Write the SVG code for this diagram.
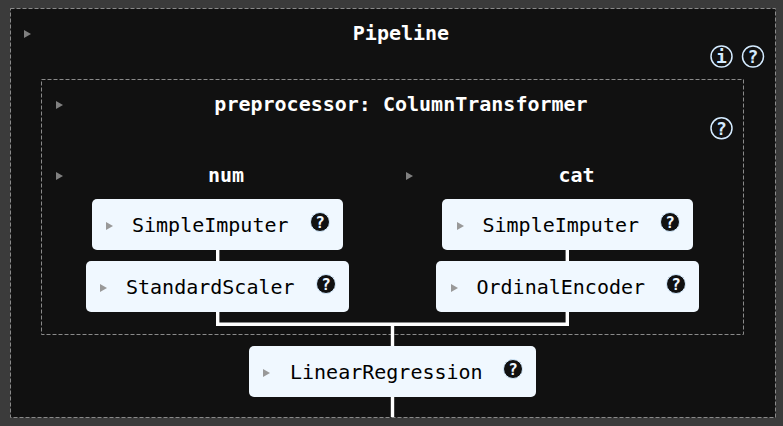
<svg xmlns="http://www.w3.org/2000/svg" width="783" height="426" viewBox="0 0 783 426">
<style>
text{font-family:"DejaVu Sans Mono","Liberation Mono",monospace}
.frame{fill:#111;stroke:#8a8a8a;stroke-width:1;stroke-dasharray:4 2}
.inner{fill:none;stroke:#8a8a8a;stroke-width:1;stroke-dasharray:4 2}
.title{font-size:20px;font-weight:700;fill:#fff;text-anchor:middle}
.box{fill:#f0f8ff}
.lab{font-size:20px;fill:#000}
.tri{fill:#808080}
.trib{fill:#999}
.conn{fill:none;stroke:#fff;stroke-width:3.4}
.h1{fill:#111;stroke:#d4ebff;stroke-width:1.5}
.h1t{font-size:18px;font-weight:700;fill:#d4ebff;text-anchor:middle}
.h2{fill:#111;stroke:#d4ebff;stroke-width:1}
.h2t{font-size:16px;font-weight:700;fill:#f0f8ff;text-anchor:middle}
</style>
<rect width="783" height="426" fill="#3b3b3b"/>
<g id="pipeline">
<rect class="frame" x="10.500" y="8.500" width="765" height="409"/>
<path class="tri" d="M24 30v8l7-4z"/>
<text class="title" x="401" y="40">Pipeline</text>
<circle class="h1" cx="721.500" cy="56.500" r="10.500"/><text class="h1t" x="721.500" y="63">i</text>
<circle class="h1" cx="753" cy="56.500" r="10.500"/><text class="h1t" x="753" y="63">?</text>
</g>
<g id="preprocessor">
<rect class="inner" x="41.500" y="79.500" width="702" height="255"/>
<path class="tri" d="M56 101v8l7-4z"/>
<text class="title" x="401" y="111">preprocessor: ColumnTransformer</text>
<circle class="h1" cx="721.500" cy="128.300" r="10.500"/><text class="h1t" x="721.500" y="134.500">?</text>
</g>
<g id="connectors">
<path class="conn" d="M217.700 250V261M217.700 312V324.300H567.300V312M567.300 250V261M392.500 324.300V346M392.500 397V417"/>
</g>
<g id="num"><path class="tri" d="M56 172v8l7-4z"/><text class="title" x="226" y="182">num</text></g>
<g id="cat"><path class="tri" d="M406 172v8l7-4z"/><text class="title" x="576.500" y="182">cat</text></g>
<g id="num-imputer">
<rect class="box" x="92" y="199" width="251" height="51" rx="5"/>
<path class="trib" d="M106 222v8l7-4z"/>
<text class="lab" x="132" y="232">SimpleImputer</text>
<circle class="h2" cx="320" cy="222" r="9.500"/><text class="h2t" x="320" y="228">?</text>
</g>
<g id="num-scaler">
<rect class="box" x="86" y="261" width="263" height="51" rx="5"/>
<path class="trib" d="M100 284v8l7-4z"/>
<text class="lab" x="126" y="294">StandardScaler</text>
<circle class="h2" cx="326" cy="284" r="9.500"/><text class="h2t" x="326" y="290">?</text>
</g>
<g id="cat-imputer">
<rect class="box" x="442" y="199" width="251" height="51" rx="5"/>
<path class="trib" d="M457 222v8l7-4z"/>
<text class="lab" x="482.500" y="232">SimpleImputer</text>
<circle class="h2" cx="670" cy="222" r="9.500"/><text class="h2t" x="670" y="228">?</text>
</g>
<g id="cat-encoder">
<rect class="box" x="436" y="261" width="263" height="51" rx="5"/>
<path class="trib" d="M451 284v8l7-4z"/>
<text class="lab" x="476.500" y="294">OrdinalEncoder</text>
<circle class="h2" cx="676" cy="284" r="9.500"/><text class="h2t" x="676" y="290">?</text>
</g>
<g id="regressor">
<rect class="box" x="249" y="346" width="287" height="51" rx="5"/>
<path class="trib" d="M263 369v8l7-4z"/>
<text class="lab" x="290" y="379">LinearRegression</text>
<circle class="h2" cx="513" cy="369" r="9.500"/><text class="h2t" x="513" y="375">?</text>
</g>
</svg>
